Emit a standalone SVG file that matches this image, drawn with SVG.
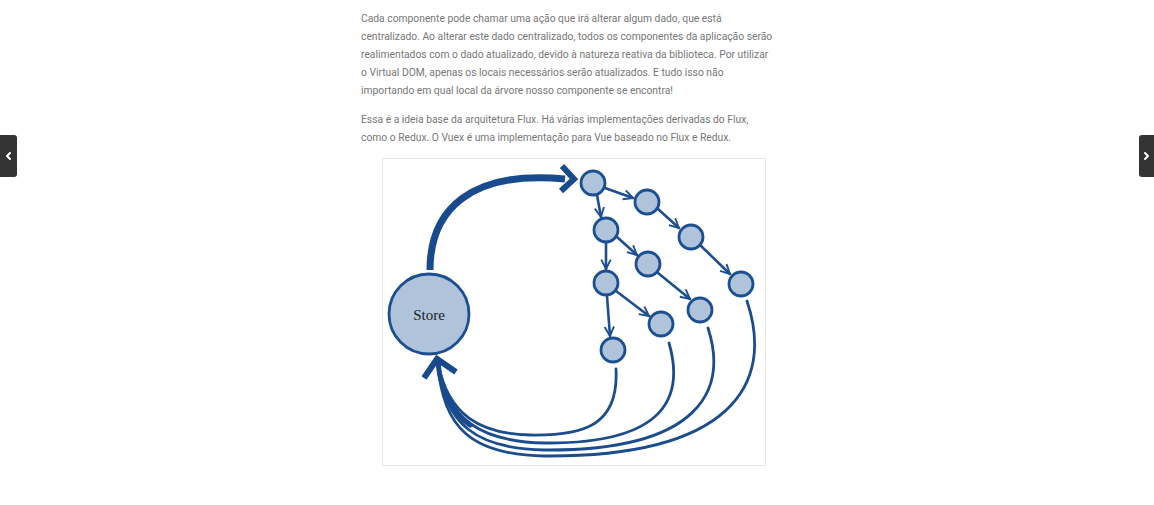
<svg xmlns="http://www.w3.org/2000/svg" width="1154" height="505" viewBox="0 0 1154 505">
<defs>
<style>
.p{font-family:Roboto,"Liberation Sans",sans-serif;font-size:10.3px;fill:#777}
.n circle{fill:#afc4da;stroke:#1c4f91;stroke-width:2.8}
.e path{fill:none;stroke:#1c4f91;stroke-width:2.6;stroke-linecap:round;stroke-linejoin:round}
.r path{fill:none;stroke:#1a4c8e;stroke-width:2.8;stroke-linecap:round}
.btn{fill:#333}
.chev{fill:none;stroke:#fff;stroke-width:2;stroke-linecap:round;stroke-linejoin:round}
</style>
<marker id="ah" viewBox="0 0 10 10" refX="9" refY="5" markerWidth="4.5" markerHeight="4.5" orient="auto" markerUnits="strokeWidth">
<path d="M1,1 L9,5 L1,9" fill="none" stroke="#1c4f91" stroke-width="1.6" stroke-linejoin="round"/>
</marker>
</defs>
<rect width="1154" height="505" fill="#fff"/>
<g id="text">
<text class="p" x="361" y="22">Cada componente pode chamar uma ação que irá alterar algum dado, que está</text>
<text class="p" x="361" y="40">centralizado. Ao alterar este dado centralizado, todos os componentes da aplicação serão</text>
<text class="p" x="361" y="58">realimentados com o dado atualizado, devido à natureza reativa da biblioteca. Por utilizar</text>
<text class="p" x="361" y="76">o Virtual DOM, apenas os locais necessários serão atualizados. E tudo isso não</text>
<text class="p" x="361" y="94">importando em qual local da árvore nosso componente se encontra!</text>
<text class="p" x="361" y="123">Essa é a ideia base da arquitetura Flux. Há várias implementações derivadas do Flux,</text>
<text class="p" x="361" y="141">como o Redux. O Vuex é uma implementação para Vue baseado no Flux e Redux.</text>
</g>
<g id="nav">
<rect class="btn" x="-4" y="135" width="21" height="42" rx="3"/>
<path class="chev" d="M10,153 L7,156 L10,159"/>
<rect class="btn" x="1139" y="135" width="20" height="42" rx="3"/>
<path class="chev" d="M1145,153 L1148,156 L1145,159"/>
</g>
<rect id="frame" x="382.5" y="158.5" width="383" height="307" fill="#fff" stroke="#e6e6e6" stroke-width="1"/>
<g id="connectors">
<g class="e">
<path d="M605,188 L633,198" marker-end="url(#ah)"/>
<path d="M658,209 L679,228" marker-end="url(#ah)"/>
<path d="M701,246 L730,274" marker-end="url(#ah)"/>
<path d="M597,195 L601,217" marker-end="url(#ah)"/>
<path d="M606,243 L606,269" marker-end="url(#ah)"/>
<path d="M617,237 L637,255" marker-end="url(#ah)"/>
<path d="M658,273 L690,299" marker-end="url(#ah)"/>
<path d="M616,291 L649,316" marker-end="url(#ah)"/>
<path d="M607,296 L610,336" marker-end="url(#ah)"/>
</g>
<g class="r">
<path d="M616,369 C619,425 585,436 530,435 C480,434 448,415 438,363"/>
<path d="M669,343 C684,395 668,444 545,443 C482,442 446,420 438,363"/>
<path d="M708,328 C728,390 700,451 545,450 C476,449 444,424 438,363"/>
<path d="M747,301 C775,385 730,457 545,456 C472,455 442,428 438,363"/>
</g>
<path d="M438,363 C441,392 452,412 470,425" fill="none" stroke="#184b8d" stroke-width="5" stroke-linecap="round"/>
<path d="M424,378 L437,359 L456,372" fill="none" stroke="#184b8d" stroke-width="6" stroke-linejoin="miter"/>
<path d="M430,270 C430,210 470,170 565,179" fill="none" stroke="#184b8d" stroke-width="7"/>
<path d="M562,166 L574,179 L561,191" fill="none" stroke="#184b8d" stroke-width="6"/>
</g>
<g id="store" class="n">
<circle cx="429" cy="314" r="40"/>
<text x="429" y="320" text-anchor="middle" font-family="'Liberation Serif',serif" font-size="15" fill="#222">Store</text>
</g>
<g class="n">
<g id="n1"><circle cx="593" cy="183" r="12"/></g>
<g id="n2"><circle cx="647" cy="202" r="12"/></g>
<g id="n3"><circle cx="691" cy="237" r="12"/></g>
<g id="n4"><circle cx="606" cy="230" r="12"/></g>
<g id="n5"><circle cx="648" cy="264" r="12"/></g>
<g id="n6"><circle cx="606" cy="283" r="12"/></g>
<g id="n7"><circle cx="741" cy="284" r="12"/></g>
<g id="n8"><circle cx="700" cy="310" r="12"/></g>
<g id="n9"><circle cx="661" cy="324" r="12"/></g>
<g id="n10"><circle cx="613" cy="350" r="12"/></g>
</g>
</svg>
